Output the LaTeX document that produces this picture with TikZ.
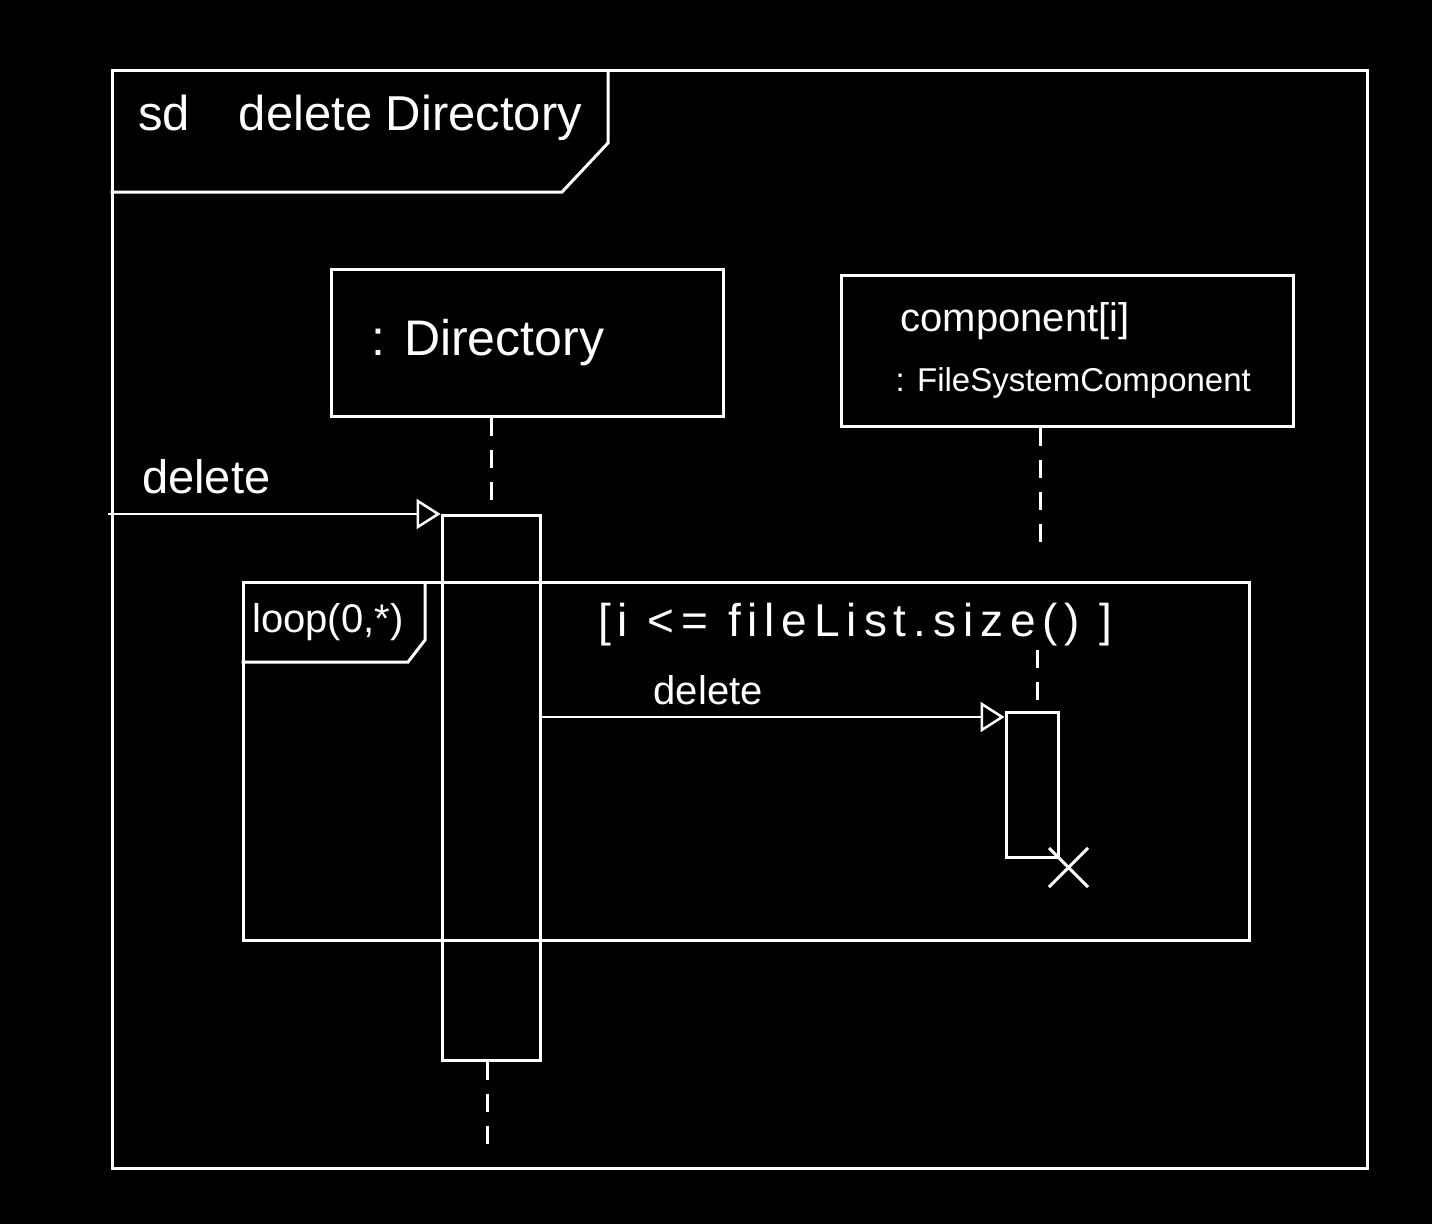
\documentclass[tikz,border=0pt]{standalone}
\usepackage{fontspec}
\setmainfont{Liberation Sans}
\usetikzlibrary{positioning, arrows.meta, shapes.misc}
\tikzset{frame line/.style = {draw=white, line width=3pt}}
\tikzset{frame box/.style = {frame line, rectangle, inner sep=0pt}}
\tikzset{object/.style = {frame box}}
\tikzset{activation/.style = {frame box}}
\tikzset{lifeline/.style = {draw=white, line width=3pt, dash pattern=on 18pt off 14pt}}
\tikzset{message/.style = {draw=white, line width=2.5pt,
  -{Triangle[open, length=24pt, width=30pt, line width=2.5pt]}}}
\tikzset{destroy/.style = {draw=white, line width=3pt, cross out, inner sep=0pt}}
\tikzset{msg text/.style = {text=white, inner sep=0pt, font=\fontsize{47pt}{50pt}\selectfont}}
\tikzset{title text/.style = {msg text, font=\fontsize{49pt}{52pt}\selectfont}}
\tikzset{name text/.style = {msg text, font=\fontsize{50pt}{54pt}\selectfont}}
\tikzset{comp text/.style = {msg text, align=left, font=\fontsize{33pt}{60pt}\selectfont}}
\tikzset{loop text/.style = {msg text, font=\fontsize{40pt}{44pt}\selectfont}}
\tikzset{guard text/.style = {msg text,
  font=\fontsize{46pt}{50pt}\selectfont\addfontfeatures{LetterSpace=15}}}

\begin{document}
\begin{tikzpicture}[x=1pt, y=-1pt, node distance=40pt]
  \fill[black] (0,0) rectangle (1432,1224);

  % sequence diagram frame
  \node[frame box, minimum width=1255pt, minimum height=1098pt] (sdFrame) at (739.5,619) {};
  \draw[frame line] (608,70) -- (608,143) -- (562,192) -- (sdFrame.west |- 0,192);
  \node[title text, anchor=west] (sdTitle) at (138,118) {sd\quad delete Directory};

  % objects
  \node[object, minimum width=392pt, minimum height=147pt] (dirBox) at (527,342.5) {};
  \node[name text, right=42pt of dirBox.west] (dirName) {: Directory};

  \node[object, minimum width=452pt, minimum height=151pt] (compBox) at (1067,350.5) {};
  \node[comp text, right=56pt of compBox.west] (compName)
    {\hspace{5pt}{\fontsize{40pt}{60pt}\selectfont component[i]}\\: FileSystemComponent};

  % activations
  \node[activation, minimum width=98pt, minimum height=545pt] (dirAct) at (491,787.5) {};
  \node[activation, minimum width=52pt, minimum height=145pt] (compAct) at (1032,784.5) {};

  % loop fragment
  \node[frame box, minimum width=1006pt, minimum height=358pt] (loopFrame) at (746,761) {};
  \draw[frame line] (425,582) -- (425,640) -- (408,662) -- (loopFrame.west |- 0,662);
  \node[loop text, anchor=west] (loopName) at (252,622) {loop(0,*)};
  \node[guard text, anchor=west] (guard) at (598,625) {[i <= fileList.size() ]};

  % lifelines
  \coordinate (compLifeA) at (1040,550);
  \coordinate (compLifeB) at (1037,650);
  \coordinate (dirEnd) at (487,1148);
  \draw[lifeline] (dirBox.south -| dirAct.north) -- (dirAct.north);
  \draw[lifeline] (dirAct.south -| dirEnd) -- (dirEnd);
  \draw[lifeline] (compBox.south -| compLifeA) -- (compLifeA);
  \draw[lifeline] (compLifeB) -- (compLifeB |- compAct.north);

  % messages
  \coordinate (foundStart) at (108,514);
  \coordinate (msgEnd) at (compAct.west |- 0,717);
  \coordinate (msgStart) at (dirAct.east |- msgEnd);
  \draw[message] (foundStart) -- (foundStart -| dirAct.west);
  \node[msg text, above right=20pt and 34pt of foundStart] (foundLabel) {delete};
  \draw[message] (msgStart) -- (msgEnd);
  \node[msg text, font=\fontsize{40pt}{44pt}\selectfont, above right=12pt and 112pt of msgStart]
    (deleteLabel) {delete};

  \node[destroy, minimum size=36pt] (compDestroy) at ([shift={(9,9)}]compAct.south east) {};
\end{tikzpicture}
\end{document}
